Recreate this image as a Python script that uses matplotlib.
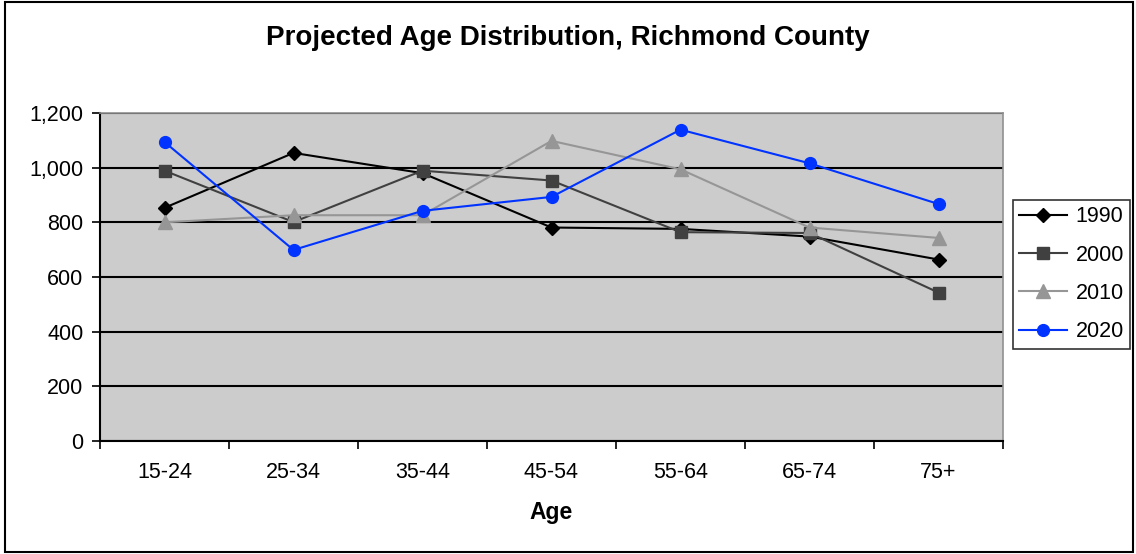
import matplotlib.pyplot as plt
from matplotlib.patches import Rectangle
import numpy as np

plt.rcParams['font.family'] = ['Liberation Sans', 'DejaVu Sans']

ages = ['15-24', '25-34', '35-44', '45-54', '55-64', '65-74', '75+']
pop_1990 = [853, 1054, 980, 781, 776, 748, 664]
pop_2000 = [989, 801, 989, 953, 764, 761, 543]
pop_2010 = [800, 826, 826, 1098, 994, 781, 743]
pop_2020 = [1094, 699, 842, 893, 1139, 1016, 867]

fig = plt.figure(figsize=(11.36, 5.54), dpi=100)
ax = fig.add_axes([100/1136, 1-441/554, 903/1136, 328/554])
ax.set_facecolor('#cccccc')

x = np.arange(len(ages))
ax.plot(x, pop_1990, color='black', lw=1.5, marker='D', ms=7.5, label='1990')
ax.plot(x, pop_2000, color='#404040', lw=1.5, marker='s', ms=8, label='2000')
ax.plot(x, pop_2010, color='#969696', lw=1.5, marker='^', ms=10, label='2010')
ax.plot(x, pop_2020, color='#0033ff', lw=1.5, marker='o', ms=8.5, label='2020')

ax.set_xlim(-0.5, len(ages) - 0.5)
ax.set_ylim(0, 1200)
ax.set_yticks(range(0, 1201, 200))
ax.set_yticklabels(['{:,}'.format(v) for v in range(0, 1201, 200)], fontsize=15.5)
ax.yaxis.grid(True, color='black', lw=1.5)
ax.set_axisbelow(True)

# boundary ticks between categories, labels centred under each point
ax.set_xticks(np.arange(-0.5, len(ages)))
ax.set_xticklabels([])
ax.set_xticks(x, minor=True)
ax.set_xticklabels(ages, minor=True, fontsize=15.5)
ax.tick_params(axis='x', which='minor', length=0, pad=15)
ax.tick_params(axis='both', which='major', length=6, width=1.2, color='black')
ax.tick_params(axis='y', pad=6)

for s in ['top', 'right']:
    ax.spines[s].set_color('#909090')
    ax.spines[s].set_linewidth(1.2)
for s in ['left', 'bottom']:
    ax.spines[s].set_color('black')
    ax.spines[s].set_linewidth(1.5)

ax.set_xlabel('Age', fontsize=16.5, fontweight='bold', labelpad=13)
fig.text(0.5, 1-38/554, 'Projected Age Distribution, Richmond County',
         fontsize=20, fontweight='bold', ha='center', va='center')

leg = fig.legend(loc='upper left', bbox_to_anchor=(1013/1136, 1-200/554),
                 borderaxespad=0, fontsize=15.5, frameon=True, fancybox=False,
                 edgecolor='black', handlelength=2.2, borderpad=0.3,
                 labelspacing=0.8, handletextpad=0.4)
leg.get_frame().set_linewidth(1.2)

fig.patches.append(Rectangle((0.004, 0.004), 0.993, 0.992, transform=fig.transFigure,
                             fill=False, edgecolor='black', lw=1.5))

fig.savefig('out.png', dpi=100)
